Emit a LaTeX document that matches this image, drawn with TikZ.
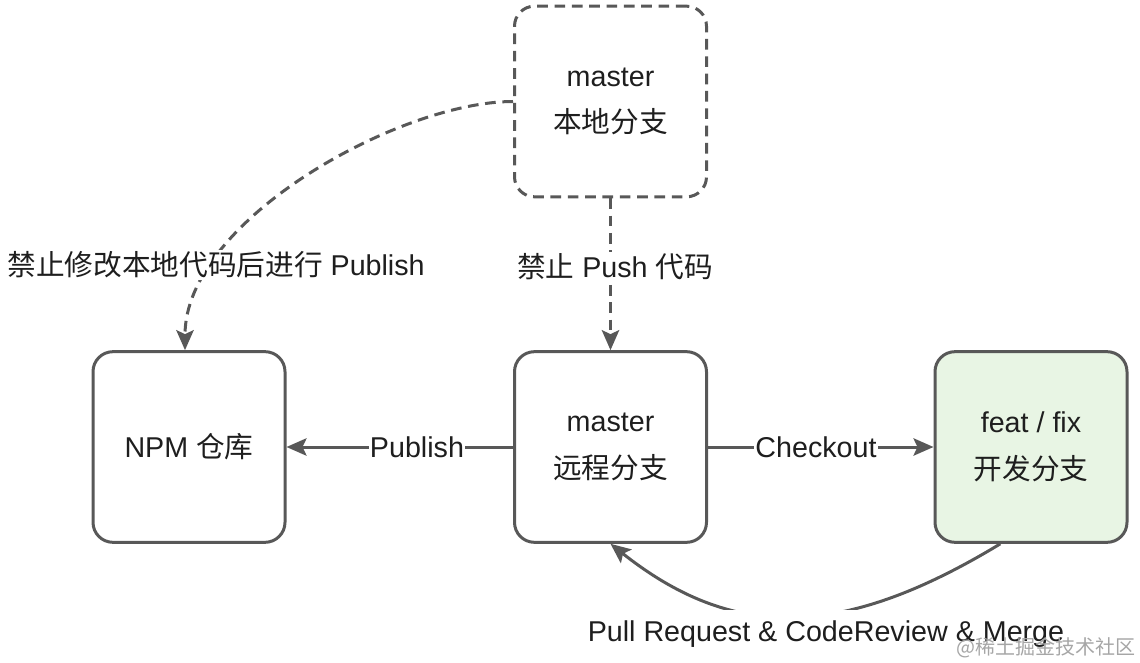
\documentclass[tikz,border=0pt]{standalone}
\usepackage{fontspec}
\setmainfont{Liberation Sans}
\newfontfamily\cjk{Noto Sans CJK SC}
\usetikzlibrary{arrows.meta}
\definecolor{lc}{RGB}{88,88,88}
\definecolor{gfill}{RGB}{232,245,228}
\definecolor{tc}{RGB}{30,30,30}
\begin{document}
\begin{tikzpicture}[x=0.75pt,y=-0.75pt,
  box/.style={draw=lc, line width=2.25pt, rounded corners=15pt, minimum width=144pt, minimum height=143pt, align=center, font=\fontsize{21.5}{35}\selectfont, text=tc, inner sep=0pt},
  conn/.style={draw=lc, line width=2.25pt, -{Stealth[length=15pt,width=13pt,inset=3pt]}},
  dsh/.style={dash pattern=on 8pt off 5pt},
  lbl/.style={fill=white, inner sep=1pt, font=\fontsize{21.5}{24}\selectfont, text=tc}
]
\useasboundingbox (0,0) rectangle (1140,663);
\node[box, dsh] (local) at (610.5,101.5) {master\\{\cjk 本地分支}};
\node[box] (npm) at (189,447) {NPM {\cjk 仓库}};
\node[box] (remote) at (610.5,447) {master\\{\cjk 远程分支}};
\node[box, fill=gfill] (feat) at (1031,447) {feat / fix\\{\cjk 开发分支}};

\draw[conn, dsh] (local.west) .. controls (400,101.5) and (185,220) .. (npm.north -| 185,0);
\draw[conn, dsh] (local.south) -- (remote.north);
\draw[conn] (remote.west) -- (npm.east);
\draw[conn] (remote.east) -- (feat.west);
\draw[conn] ([xshift=-23pt]feat.south) .. controls (840,641) and (732,640) .. (remote.south);

\node[lbl] (l1) at (216,265) {{\cjk 禁止修改本地代码后进行} Publish};
\node[lbl] (l2) at (615,267) {{\cjk 禁止} Push {\cjk 代码}};
\node[lbl] (l3) at (417,447) {Publish};
\node[lbl] (l4) at (816,447) {Checkout};
\node[lbl, inner ysep=8pt] (l5) at (826,634) {Pull Request \& CodeReview \& Merge};
\node[font=\cjk\fontsize{15}{15}\selectfont, text=black!35, anchor=east, inner sep=0pt] (wm) at (1136,648) {@稀土掘金技术社区};
\end{tikzpicture}
\end{document}
